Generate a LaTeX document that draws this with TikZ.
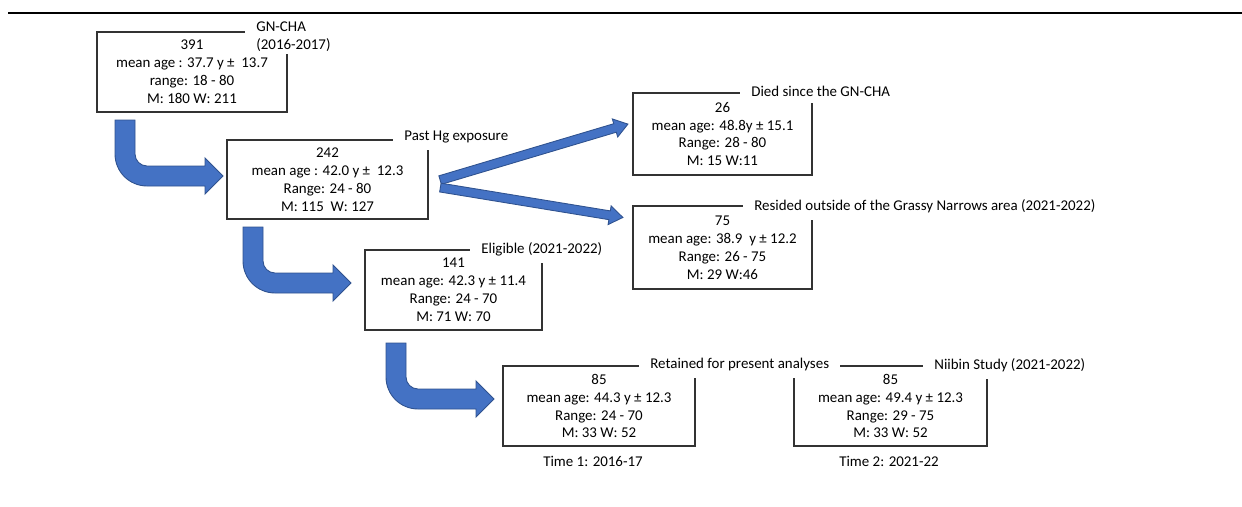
\documentclass[tikz,border=0pt]{standalone}
\usepackage{fontspec}
\setmainfont{Carlito}
\usepackage{xcolor}
\usetikzlibrary{shapes.arrows, positioning}

\definecolor{arrowblue}{HTML}{4472C4}
\definecolor{arrowedge}{HTML}{2F528F}

\begin{document}
\begin{tikzpicture}[
    x=0.02cm, y=-0.02cm,
    font=\fontsize{8.5}{10.2}\selectfont,
    stagebox/.style={draw=black!80, line width=0.6pt, rectangle, align=center, inner sep=0pt},
    stagelabel/.style={fill=white, anchor=west, align=left, inner xsep=0.22cm, inner ysep=0.14cm},
    flowarrow/.style={single arrow, draw=arrowedge, fill=arrowblue, line width=0.5pt, inner xsep=0pt, inner ysep=0.08cm, single arrow head extend=0.1cm, single arrow tip angle=70, minimum width=0.36cm},
    bendarrow/.pic={
        \draw[draw=arrowedge, fill=arrowblue, line width=0.5pt]
            (-10,0) -- (10,0) -- (10,34) .. controls (10,40.6) and (15.4,46) .. (22,46)
            -- (80,46) -- (80,38) -- (98,56) -- (80,74) -- (80,66) -- (22,66)
            .. controls (4.3,66) and (-10,51.7) .. (-10,34) -- cycle;
    }
]
    \useasboundingbox (0,0) rectangle (1242,507);

    % ================= BOXES =================
    \node[stagebox, minimum width=3.8cm, minimum height=1.6cm] (n391) at (192,72)
        {391\\mean age : 37.7 y ±~ 13.7\\range: 18 - 80\\M: 180 W: 211};
    \node[stagebox, minimum width=4.02cm, minimum height=1.58cm] (n242) at (327.5,179.5)
        {242\\mean age : 42.0 y ±~ 12.3\\Range: 24 - 80\\M: 115~ W: 127};
    \node[stagebox, minimum width=3.54cm, minimum height=1.6cm] (n141) at (453.5,290)
        {141\\mean age: 42.3 y ± 11.4\\Range: 24 - 70\\M: 71 W: 70};
    \node[stagebox, minimum width=3.58cm, minimum height=1.64cm] (n26) at (722.5,134)
        {26\\mean age: 48.8y ± 15.1\\Range: 28 - 80\\M: 15 W:11};
    \node[stagebox, minimum width=3.58cm, minimum height=1.66cm] (n75) at (722.5,247.5)
        {75\\mean age: 38.9~ y ± 12.2\\Range: 26 - 75\\M: 29 W:46};
    \node[stagebox, minimum width=3.84cm, minimum height=1.6cm] (n85a) at (599,406)
        {85\\mean age: 44.3 y ± 12.3\\Range: 24 - 70\\M: 33 W: 52};
    \node[stagebox, minimum width=3.86cm, minimum height=1.6cm] (n85b) at (890.5,406)
        {85\\mean age: 49.4 y ± 12.3\\Range: 29 - 75\\M: 33 W: 52};

    % ================= TITLES =================
    \node[stagelabel, inner ysep=0.04cm] (t391) at (245,37) {GN-CHA\\(2016-2017)};
    \node[stagelabel] (t242) at (393,137) {Past Hg exposure};
    \node[stagelabel] (t141) at (470,249) {Eligible (2021-2022)};
    \node[stagelabel] (t26) at (740,91) {Died since the GN-CHA};
    \node[stagelabel] (t75) at (743,206) {Resided outside of the Grassy Narrows area (2021-2022)};
    \node[stagelabel] (t85a) at (639,365) {Retained for present analyses};
    \node[stagelabel] (t85b) at (923,365) {Niibin Study (2021-2022)};

    \node (time1) at (593,461) {Time 1: 2016-17};
    \node (time2) at (889,461) {Time 2: 2021-22};

    % ================= ARROWS =================
    \pic (bendA) at (125,120) {bendarrow};
    \pic (bendB) at (253,227) {bendarrow};
    \pic (bendC) at (396,343) {bendarrow};
    \node[flowarrow, rotate=16.6, minimum height=3.92cm] (toDied) at (531,153) {};
    \node[flowarrow, rotate=-9.3, minimum height=3.7cm] (toMoved) at (528.5,202) {};

    % top rule
    \draw[line width=0.9pt] (8,13) -- (1242,13);
\end{tikzpicture}
\end{document}
